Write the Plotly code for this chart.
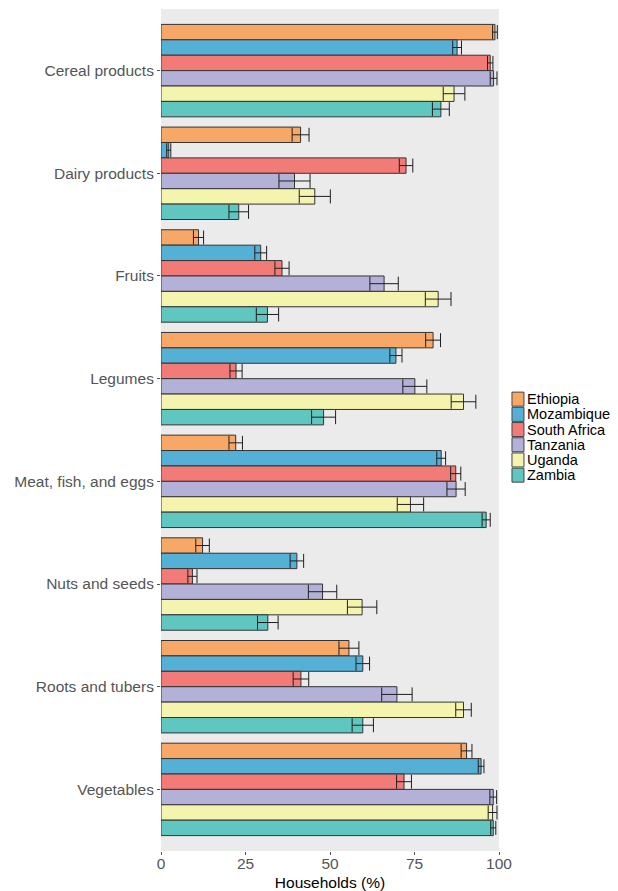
import plotly.graph_objects as go

categories = ["Cereal products", "Dairy products", "Fruits", "Legumes",
              "Meat, fish, and eggs", "Nuts and seeds", "Roots and tubers", "Vegetables"]

countries = ["Ethiopia", "Mozambique", "South Africa", "Tanzania", "Uganda", "Zambia"]

ethiopia = [98.8, 41.3, 11.1, 80.5, 22.1, 12.3, 55.6, 90.4]
ethiopia_err = [0.7, 2.5, 1.5, 2.2, 2.0, 2.0, 2.95, 1.6]
mozambique = [87.6, 2.3, 29.5, 69.5, 82.9, 40.2, 59.7, 94.7]
mozambique_err = [1.3, 0.6, 1.75, 1.8, 1.3, 2.0, 2.0, 0.85]
south_africa = [97.4, 72.5, 35.8, 22.2, 87.2, 9.3, 41.4, 71.9]
south_africa_err = [0.8, 2.0, 2.1, 1.8, 1.5, 1.35, 2.3, 2.2]
tanzania = [98.4, 39.5, 66.0, 75.1, 87.3, 47.8, 69.8, 98.3]
tanzania_err = [1.0, 4.6, 4.2, 3.55, 2.7, 4.2, 4.5, 1.0]
uganda = [86.7, 45.5, 82.0, 89.5, 73.8, 59.5, 89.5, 98.1]
uganda_err = [3.2, 4.6, 3.8, 3.65, 3.9, 4.35, 2.3, 1.3]
zambia = [82.8, 23.0, 31.5, 48.1, 96.2, 31.6, 59.7, 98.3]
zambia_err = [2.5, 2.9, 3.3, 3.55, 1.2, 3.05, 3.15, 0.75]

x_ticks = [0, 25, 50, 75, 100]

values = [ethiopia, mozambique, south_africa, tanzania, uganda, zambia]
errors = [ethiopia_err, mozambique_err, south_africa_err, tanzania_err, uganda_err, zambia_err]
colors = ["#F8A866", "#55B0D6", "#F37B77", "#B3B1D7", "#F4F4AE", "#5FC6C0"]

FONT = "Liberation Sans, Arial, sans-serif"

fig = go.Figure()
for name, vals, errs, col in zip(countries, values, errors, colors):
    fig.add_trace(go.Bar(
        y=categories, x=vals, name=name, orientation="h",
        marker=dict(color=col, line=dict(color="#333333", width=1)),
        error_x=dict(type="data", array=errs, symmetric=True,
                     color="#1f1f1f", thickness=1, width=7),
        showlegend=False,
    ))

L, R, T, B = 160.5, 119, 9, 40.3
W, H = 618, 891
pw = W - L - R
ph = H - T - B

def px_to_paper_x(px):
    return (px - L) / pw

def px_to_paper_y(py):
    return (H - B - py) / ph

shapes = []
annotations = []
for i, (name, col) in enumerate(zip(countries, colors)):
    cy = 399 + 15.2 * i
    shapes.append(dict(type="rect", xref="paper", yref="paper",
                       x0=px_to_paper_x(512), x1=px_to_paper_x(524),
                       y0=px_to_paper_y(cy + 7), y1=px_to_paper_y(cy - 7),
                       fillcolor=col, line=dict(color="#444444", width=1)))
    annotations.append(dict(xref="paper", yref="paper", x=px_to_paper_x(526),
                            y=px_to_paper_y(cy), text=name, showarrow=False,
                            xanchor="left", yanchor="middle", borderpad=0,
                            font=dict(family=FONT, size=14.5, color="#000000")))

fig.update_layout(
    width=W, height=H,
    margin=dict(l=L, r=R, t=T, b=B),
    barmode="group", bargap=0.1, bargroupgap=0,
    plot_bgcolor="#EBEBEB", paper_bgcolor="white",
    font=dict(family=FONT, size=15, color="#555555"),
    shapes=shapes, annotations=annotations,
    xaxis=dict(range=[0, 100], tickvals=x_ticks, ticktext=[str(v) for v in x_ticks],
               showgrid=False, zeroline=False, ticks="outside", ticklen=3,
               tickcolor="#555555", tickfont=dict(size=15.5, color="#555555"),
               automargin=False, ticklabelstandoff=-5,
               title=dict(text="Households (%)", font=dict(size=15.5, color="#000000"),
                          standoff=6)),
    yaxis=dict(categoryorder="array", categoryarray=categories,
               range=[7.6, -0.6], showgrid=False, zeroline=False,
               ticks="outside", ticklen=3, tickcolor="#555555", automargin=False,
               tickfont=dict(size=15.5, color="#555555")),
)

fig.write_html("out.html")
